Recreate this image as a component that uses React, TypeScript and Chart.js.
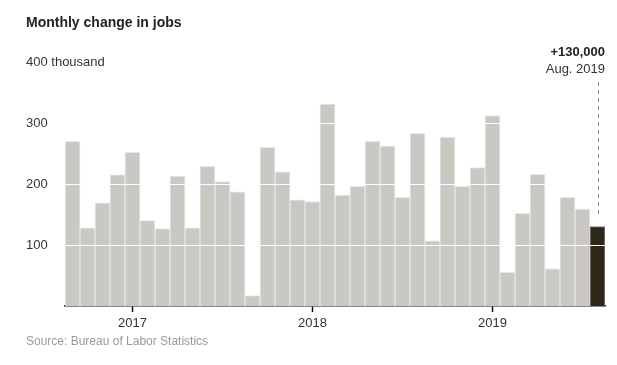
import React, { useEffect, useRef } from "react";
import { Chart, registerables } from "chart.js";

Chart.register(...registerables);

const months: string[] = [
  "Sep 2016", "Oct 2016", "Nov 2016", "Dec 2016",
  "Jan 2017", "Feb 2017", "Mar 2017", "Apr 2017", "May 2017", "Jun 2017",
  "Jul 2017", "Aug 2017", "Sep 2017", "Oct 2017", "Nov 2017", "Dec 2017",
  "Jan 2018", "Feb 2018", "Mar 2018", "Apr 2018", "May 2018", "Jun 2018",
  "Jul 2018", "Aug 2018", "Sep 2018", "Oct 2018", "Nov 2018", "Dec 2018",
  "Jan 2019", "Feb 2019", "Mar 2019", "Apr 2019", "May 2019", "Jun 2019",
  "Jul 2019", "Aug 2019",
];

const jobs: number[] = [
  270, 128, 169, 215, 252, 140, 127, 213, 128, 229, 204, 187,
  17, 260, 220, 174, 171, 331, 182, 196, 270, 262, 178, 283,
  107, 277, 196, 227, 312, 55, 152, 216, 61, 178, 159, 130,
];

const yTicks: number[] = [100, 200, 300, 400];
const yTickLabels: string[] = ["100", "200", "300", "400 thousand"];
const yearTickIndex: number[] = [4, 16, 28];
const yearTickLabels: string[] = ["2017", "2018", "2019"];

const titleText = "Monthly change in jobs";
const sourceText = "Source: Bureau of Labor Statistics";
const annValue = "+130,000";
const annLabel = "Aug. 2019";

const FONT = "'Liberation Sans', Arial, sans-serif";

export default function App() {
  const ref = useRef<HTMLCanvasElement | null>(null);

  useEffect(() => {
    if (!ref.current) return;
    const last = jobs.length - 1;

    const overlay = {
      id: "overlay",
      afterDatasetsDraw(chart: any) {
        const ctx = chart.ctx;
        const y = chart.scales.y;
        const area = chart.chartArea;
        ctx.save();
        ctx.strokeStyle = "#ffffff";
        ctx.lineWidth = 1.2;
        yTicks.forEach((v) => {
          const py = Math.round(y.getPixelForValue(v)) + 0.5;
          ctx.beginPath();
          ctx.moveTo(area.left, py);
          ctx.lineTo(area.right, py);
          ctx.stroke();
        });
        ctx.restore();
      },
      afterDraw(chart: any) {
        const ctx = chart.ctx;
        const y = chart.scales.y;
        ctx.save();
        // title
        ctx.fillStyle = "#222";
        ctx.font = `bold 14px ${FONT}`;
        ctx.textBaseline = "middle";
        ctx.textAlign = "left";
        ctx.fillText(titleText, 26, 23);
        // y labels
        ctx.font = `13px ${FONT}`;
        ctx.fillStyle = "#333";
        yTicks.forEach((v, i) => {
          ctx.fillText(yTickLabels[i], 26, y.getPixelForValue(v));
        });
        // source
        ctx.font = `12px ${FONT}`;
        ctx.fillStyle = "#9a9a9a";
        ctx.fillText(sourceText, 26, 342);
        // annotation
        const meta = chart.getDatasetMeta(0);
        const bar = meta.data[last];
        const bx = Math.round(bar.x) + 0.5;
        ctx.textAlign = "right";
        ctx.fillStyle = "#222";
        ctx.font = `bold 13px ${FONT}`;
        ctx.fillText(annValue, 605, 52);
        ctx.font = `13px ${FONT}`;
        ctx.fillStyle = "#333";
        ctx.fillText(annLabel, 605, 69);
        ctx.strokeStyle = "#888";
        ctx.lineWidth = 1;
        ctx.setLineDash([4, 4]);
        ctx.beginPath();
        ctx.moveTo(bx, 82);
        ctx.lineTo(bx, bar.y - 11);
        ctx.stroke();
        ctx.restore();
      },
    };

    const chart = new Chart(ref.current, {
      type: "bar",
      data: {
        labels: months,
        datasets: [
          {
            data: jobs,
            backgroundColor: jobs.map((_, i) => (i === last ? "#30271b" : "#c9c8c3")),
            borderColor: jobs.map((_, i) => (i === last ? "#8b867e" : "#e9e8e4")),
            borderWidth: 1,
            borderSkipped: "bottom",
            categoryPercentage: 1,
            barPercentage: 1,
          },
        ],
      },
      options: {
        responsive: false,
        animation: false,
        maintainAspectRatio: false,
        layout: { padding: { left: 65, right: 12, top: 62, bottom: 0 } },
        plugins: { legend: { display: false }, tooltip: { enabled: false }, title: { display: false } },
        scales: {
          x: {
            grid: {
              offset: false,
              drawOnChartArea: false,
              drawTicks: true,
              tickLength: 6,
              tickWidth: 1.5,
              tickColor: (c: any) => (yearTickIndex.includes(c.index) ? "#111" : "rgba(0,0,0,0)"),
            },
            border: { display: true, color: "#111", width: 1.5 },
            ticks: {
              autoSkip: false,
              maxRotation: 0,
              padding: 4,
              color: "#333",
              font: { family: FONT, size: 13 },
              callback: (_v: any, i: number) => {
                const k = yearTickIndex.indexOf(i);
                return k >= 0 ? yearTickLabels[k] : "";
              },
            },
            afterFit: (s: any) => {
              s.height = 59;
            },
          },
          y: {
            min: 0,
            max: 400,
            ticks: { stepSize: 100, display: false },
            border: { display: false },
            grid: { display: false },
            afterFit: (s: any) => {
              s.width = 0;
            },
          },
        },
      },
      plugins: [overlay],
    });
    return () => chart.destroy();
  }, []);

  return (
    <div style={{ position: "fixed", left: 0, top: 0, width: 617, height: 365, background: "#fff" }}>
      <canvas ref={ref} width={617} height={365} style={{ width: 617, height: 365, display: "block" }} />
    </div>
  );
}
